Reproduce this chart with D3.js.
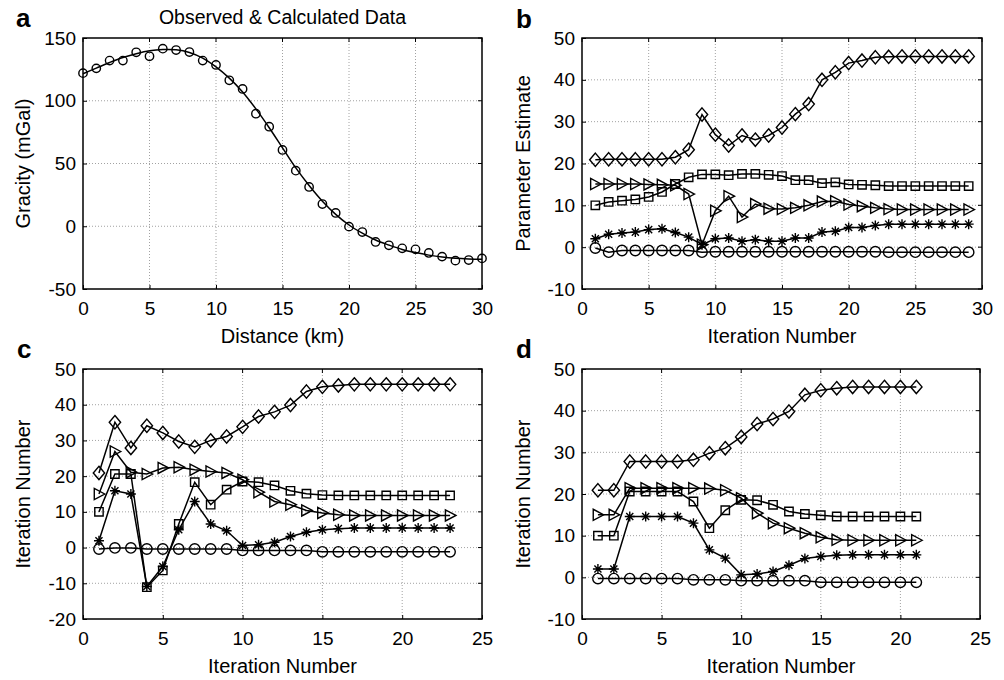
<!DOCTYPE html>
<html>
<head>
<meta charset="utf-8">
<script src="https://cdn.jsdelivr.net/npm/d3@7"></script>
<style>
  body { margin: 0; background: #fff; }
  svg text { font-family: "Liberation Sans", Arial, sans-serif; fill: #000; }
</style>
</head>
<body>
<div class="visual"></div>
<script>
//data - panel a
const distKm = d3.range(0, 31);
const observed = [122, 125.8, 132, 132, 138.6, 135.4, 141.5, 140.4, 138.8, 132, 128.5,
  116.3, 109.4, 89.7, 79.3, 60.8, 44.3, 31.3, 17.7, 10.6, -0.3, -4.6, -12.5, -15.2,
  -17.6, -18.4, -21.3, -24.2, -27.4, -26.9, -25.6];
const calculated = [121.5, 126, 130.5, 134.5, 137.5, 139.8, 140.8, 140.6, 138.5, 134, 127,
  118, 107, 93.5, 78.5, 62.5, 46.5, 32.5, 20, 9.5, 1, -5.5, -11, -15, -18.5, -21,
  -23, -24.5, -25.5, -26, -26.2];

//data - panel b (iterations 1..29)
const bDiamond = [20.9, 21, 21, 21, 21, 21, 21.5, 23.3, 31.7, 26.9, 24.3, 26.7, 25.7, 26.7,
  28.6, 31.8, 34.2, 40, 41.8, 44, 44.6, 45.4, 45.5, 45.6, 45.6, 45.6, 45.6, 45.6, 45.6];
const bSquare = [10, 10.8, 11.1, 11.4, 12, 13.2, 15.1, 16.7, 17.4, 17.4, 17.2, 17.5, 17.5,
  17.3, 17, 16, 16, 15.3, 15.5, 15, 14.9, 14.8, 14.6, 14.6, 14.6, 14.6, 14.6, 14.6, 14.6];
const bTriangle = [15.1, 15.1, 15.1, 15.1, 15, 14.9, 14.8, 12.7, 0.6, 8.7, 12.2, 7.2, 10.3,
  9.2, 9.1, 9.4, 10, 10.9, 11, 10.2, 9.8, 9.4, 9.1, 9, 9, 9, 9, 9, 9];
const bStar = [2, 3.1, 3.4, 3.6, 4.2, 4.4, 3.5, 2.4, 0.6, 2, 2.2, 1.4, 1.8, 1.4, 1.4, 2.2,
  2.2, 3.6, 3.8, 4.7, 4.7, 5.2, 5.5, 5.5, 5.5, 5.5, 5.5, 5.5, 5.5];
const bCircle = [-0.2, -1.2, -0.8, -0.8, -0.8, -0.8, -0.8, -0.8, -1.2, -1.1, -1.1, -1.1,
  -1.1, -1.1, -1.1, -1.1, -1.1, -1.1, -1.1, -1.1, -1.1, -1.1, -1.2, -1.2, -1.2, -1.2,
  -1.2, -1.2, -1.2];

//data - panel c (iterations 1..23)
const cDiamond = [20.9, 35.1, 27.9, 34.1, 32.1, 29.7, 28.2, 30, 31.1, 33.8, 36.7, 38, 39.9,
  43.7, 45, 45.4, 45.7, 45.7, 45.7, 45.7, 45.7, 45.7, 45.7];
const cSquare = [10, 20.6, 20.6, -11.1, -6.4, 6.6, 18.3, 12, 16.2, 18.5, 18.3, 17.4, 15.9,
  15.1, 14.7, 14.6, 14.6, 14.6, 14.6, 14.6, 14.6, 14.6, 14.6];
const cTriangle = [15, 26.9, 21.1, 20.6, 22.3, 22.5, 21.8, 21.3, 20.9, 19, 15.5, 12.9, 12,
  10.4, 9.7, 9.2, 9, 9, 9, 9, 9, 9, 9];
const cStar = [1.9, 15.9, 15, -10.9, -5.3, 5, 12.9, 6.6, 4.7, 0.6, 0.8, 1.5, 3.1, 4.3, 5,
  5.3, 5.5, 5.5, 5.5, 5.5, 5.5, 5.5, 5.5];
const cCircle = [-0.4, -0.1, -0.1, -0.4, -0.4, -0.4, -0.4, -0.4, -0.4, -0.8, -0.8, -0.8,
  -0.8, -0.8, -1.2, -1.2, -1.2, -1.2, -1.2, -1.2, -1.2, -1.2, -1.2];

//data - panel d (iterations 1..21)
const dDiamond = [20.9, 20.9, 27.8, 27.8, 27.8, 27.8, 28.2, 29.8, 31, 33.7, 36.8, 38, 39.8,
  43.8, 44.9, 45.4, 45.7, 45.7, 45.7, 45.7, 45.7];
const dSquare = [10, 10, 20.6, 20.6, 20.6, 20.6, 18.2, 11.8, 16.1, 18.6, 18.5, 17.4, 15.8,
  15.2, 14.9, 14.6, 14.6, 14.6, 14.6, 14.6, 14.6];
const dTriangle = [15, 15, 21.4, 21.4, 21.4, 21.4, 21.4, 21.3, 20.9, 19, 15.4, 13, 11.8,
  10.6, 9.6, 9, 8.9, 8.9, 8.9, 8.9, 8.9];
const dStar = [2, 2, 14.6, 14.6, 14.6, 14.6, 13, 6.6, 4.6, 0.6, 0.8, 1.4, 2.9, 4.5, 5, 5.3,
  5.4, 5.4, 5.4, 5.4, 5.4];
const dCircle = [-0.3, -0.3, -0.3, -0.3, -0.3, -0.3, -0.6, -0.6, -0.6, -0.8, -0.8, -0.8,
  -0.8, -0.8, -1.2, -1.2, -1.2, -1.2, -1.2, -1.2, -1.2];

//custom marker shapes (matlab style)
const symDiamond = { draw(ctx, size) {
  const w = Math.sqrt(size) * 0.53, h = Math.sqrt(size) * 0.62;
  ctx.moveTo(0, -h); ctx.lineTo(w, 0); ctx.lineTo(0, h); ctx.lineTo(-w, 0); ctx.closePath();
}};
const symTriRight = { draw(ctx, size) {
  const r = Math.sqrt(size) * 0.6;
  ctx.moveTo(r, 0); ctx.lineTo(-r * 0.8, -r * 0.95); ctx.lineTo(-r * 0.8, r * 0.95); ctx.closePath();
}};
const symStar = { draw(ctx, size) {
  const r = Math.sqrt(size) * 0.5, q = r * 0.7071;
  ctx.moveTo(-r, 0); ctx.lineTo(r, 0);
  ctx.moveTo(0, -r); ctx.lineTo(0, r);
  ctx.moveTo(-q, -q); ctx.lineTo(q, q);
  ctx.moveTo(-q, q); ctx.lineTo(q, -q);
}};

const width = 1004, height = 680;
const svg = d3.select(".visual").append("svg")
  .attr("width", width).attr("height", height);

function panel(cfg) {
  const x = d3.scaleLinear().domain(cfg.xDomain).range([cfg.left, cfg.right]);
  const y = d3.scaleLinear().domain(cfg.yDomain).range([cfg.bottom, cfg.top]);
  const g = svg.append("g");
  const xt = d3.range(cfg.xDomain[0], cfg.xDomain[1] + 0.1, cfg.xStep);
  const yt = d3.range(cfg.yDomain[0], cfg.yDomain[1] + 0.1, cfg.yStep);

  //grid
  g.selectAll(".gx").data(xt.slice(1, -1)).enter().append("line")
    .attr("x1", d => x(d)).attr("x2", d => x(d))
    .attr("y1", cfg.top).attr("y2", cfg.bottom)
    .attr("stroke", "#8a8a8a").attr("stroke-width", 0.8).attr("stroke-dasharray", "1,2");
  g.selectAll(".gy").data(yt.slice(1, -1)).enter().append("line")
    .attr("y1", d => y(d)).attr("y2", d => y(d))
    .attr("x1", cfg.left).attr("x2", cfg.right)
    .attr("stroke", "#8a8a8a").attr("stroke-width", 0.8).attr("stroke-dasharray", "1,2");

  //axes
  const xa = g.append("g").attr("transform", "translate(0," + cfg.bottom + ")")
    .call(d3.axisBottom(x).tickValues(xt).tickSize(-4).tickPadding(10).tickFormat(d => String(d)));
  const ya = g.append("g").attr("transform", "translate(" + cfg.left + ",0)")
    .call(d3.axisLeft(y).tickValues(yt).tickSize(-4).tickPadding(7).tickFormat(d => String(d)));
  [xa, ya].forEach(a => {
    a.select(".domain").remove();
    a.selectAll("text").style("font-size", "19px");
    a.selectAll("line").attr("stroke", "#000");
  });
  xa.selectAll("text").attr("dy", "0.85em");

  //top/right ticks
  g.selectAll(".tt").data(xt).enter().append("line")
    .attr("x1", d => x(d)).attr("x2", d => x(d)).attr("y1", cfg.top).attr("y2", cfg.top + 4)
    .attr("stroke", "#000");
  g.selectAll(".tr").data(yt).enter().append("line")
    .attr("y1", d => y(d)).attr("y2", d => y(d)).attr("x1", cfg.right).attr("x2", cfg.right - 4)
    .attr("stroke", "#000");

  g.append("rect")
    .attr("x", cfg.left).attr("y", cfg.top)
    .attr("width", cfg.right - cfg.left).attr("height", cfg.bottom - cfg.top)
    .attr("fill", "none").attr("stroke", "#000").attr("stroke-width", 1.5);

  //series
  cfg.series.forEach(s => {
    const pts = s.values.map((v, i) => [s.xs ? s.xs[i] : i + 1, v]);
    const line = d3.line().x(d => x(d[0])).y(d => y(d[1]));
    if (s.curve) line.curve(s.curve);
    if (s.showLine !== false) {
      g.append("path").datum(pts)
        .attr("d", line).attr("fill", "none").attr("stroke", "#000").attr("stroke-width", 1.5);
    }
    if (s.symbol) {
      g.selectAll(null).data(pts).enter().append("path")
        .attr("transform", d => "translate(" + x(d[0]) + "," + y(d[1]) + ")")
        .attr("d", d3.symbol().type(s.symbol).size(s.size))
        .attr("fill", "none").attr("stroke", "#000").attr("stroke-width", 1.4);
    }
  });

  //labels
  g.append("text").attr("x", (cfg.left + cfg.right) / 2).attr("y", cfg.bottom + 54)
    .attr("text-anchor", "middle").style("font-size", "20px").text(cfg.xLabel);
  g.append("text")
    .attr("transform", "translate(" + cfg.yLabelX + "," + (cfg.top + cfg.bottom) / 2 + ") rotate(-90)")
    .attr("text-anchor", "middle").style("font-size", "20px").text(cfg.yLabel);
  g.append("text").attr("x", cfg.tagX).attr("y", cfg.tagY)
    .style("font-size", "26px").style("font-weight", "bold").text(cfg.tag);
  if (cfg.title) {
    g.append("text").attr("x", (cfg.left + cfg.right) / 2).attr("y", 24)
      .attr("text-anchor", "middle").style("font-size", "19.5px").text(cfg.title);
  }
}

function iterSeries(diamond, square, triangle, star, circle) {
  return [
    { values: circle, symbol: d3.symbolCircle, size: 85 },
    { values: star, symbol: symStar, size: 100 },
    { values: triangle, symbol: symTriRight, size: 95 },
    { values: square, symbol: d3.symbolSquare, size: 70 },
    { values: diamond, symbol: symDiamond, size: 115 }
  ];
}

panel({
  left: 83, right: 482, top: 38, bottom: 289,
  xDomain: [0, 30], xStep: 5, yDomain: [-50, 150], yStep: 50,
  xLabel: "Distance (km)", yLabel: "Gracity (mGal)", yLabelX: 30,
  tag: "a", tagX: 16, tagY: 27, title: "Observed & Calculated Data",
  series: [
    { values: calculated, xs: distKm, curve: d3.curveCatmullRom },
    { values: observed, xs: distKm, symbol: d3.symbolCircle, size: 55, showLine: false }
  ]
});

panel({
  left: 582, right: 982, top: 38, bottom: 289,
  xDomain: [0, 30], xStep: 5, yDomain: [-10, 50], yStep: 10,
  xLabel: "Iteration Number", yLabel: "Parameter Estimate", yLabelX: 530,
  tag: "b", tagX: 516, tagY: 28,
  series: iterSeries(bDiamond, bSquare, bTriangle, bStar, bCircle)
});

panel({
  left: 83, right: 482, top: 369, bottom: 619,
  xDomain: [0, 25], xStep: 5, yDomain: [-20, 50], yStep: 10,
  xLabel: "Iteration Number", yLabel: "Iteration Number", yLabelX: 30,
  tag: "c", tagX: 17, tagY: 358,
  series: iterSeries(cDiamond, cSquare, cTriangle, cStar, cCircle)
});

panel({
  left: 582, right: 980, top: 369, bottom: 619,
  xDomain: [0, 25], xStep: 5, yDomain: [-10, 50], yStep: 10,
  xLabel: "Iteration Number", yLabel: "Iteration Number", yLabelX: 530,
  tag: "d", tagX: 516, tagY: 358,
  series: iterSeries(dDiamond, dSquare, dTriangle, dStar, dCircle)
});
</script>
</body>
</html>
